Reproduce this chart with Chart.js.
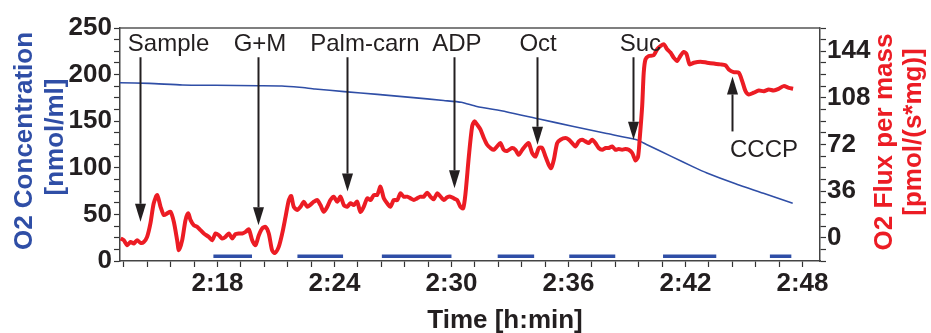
<!DOCTYPE html>
<html>
<head>
<meta charset="utf-8">
<script src="https://cdn.jsdelivr.net/npm/chart.js@4.4.0/dist/chart.umd.min.js"></script>
<style>
  html, body { margin: 0; padding: 0; background: #fff; }
  #wrap { width: 931px; height: 333px; }
</style>
</head>
<body>
<div id="wrap"><canvas id="chart" width="931" height="333"></canvas></div>
<script>
// Time values are minutes after 2:00
const o2Times = [13.0, 14.5, 16.2, 17.9, 20.1, 21.3, 22.2, 23.0, 24.5, 26.2, 27.9, 29.6, 30.5, 31.3,
  32.8, 34.5, 36.2, 37.9, 39.5, 40.0, 41.3, 42.4, 43.1, 44.5, 46.0, 47.5];
const o2Conc = [191.3, 190.6, 188.9, 188.5, 188.1, 187.8, 186.4, 184.6, 181.7, 178.8, 175.6, 172.2, 170.3, 165.8,
  160.2, 152.3, 144.6, 137.0, 130.0, 125.0, 112.0, 101.0, 94.5, 83.4, 72.6, 61.9];

const fluxTimes = [
  13.03, 13.19, 13.37, 13.54, 13.71, 13.88, 14.05, 14.22, 14.39, 14.56, 14.73, 14.91, 15.08, 15.25, 15.42,
  15.59, 15.76, 15.93, 16.02, 16.19, 16.36, 16.5, 16.62, 16.78, 16.96, 17.13, 17.3, 17.55, 17.73, 17.9,
  18.07, 18.24, 18.41, 18.58, 18.75, 18.92, 19.09, 19.27, 19.44, 19.61, 19.78, 19.95, 20.12, 20.29, 20.46,
  20.63, 20.8, 20.94, 21.14, 21.32, 21.49, 21.66, 21.78, 21.91, 22.09, 22.26, 22.43, 22.6, 22.77, 22.94,
  23.11, 23.28, 23.45, 23.63, 23.79, 23.96, 24.14, 24.31, 24.48, 24.65, 24.82, 24.99, 25.16, 25.33, 25.5,
  25.68, 25.85, 26.02, 26.19, 26.36, 26.53, 26.7, 26.87, 27.04, 27.22, 27.38, 27.55, 27.73, 27.9, 28.07,
  28.24, 28.41, 28.58, 28.75, 28.92, 29.09, 29.27, 29.44, 29.61, 29.78, 29.95, 30.12, 30.29, 30.46, 30.6,
  30.72, 30.89, 31.06, 31.18, 31.32, 31.49, 31.66, 31.83, 32.0, 32.17, 32.34, 32.51, 32.68, 32.85, 33.11,
  33.28, 33.45, 33.63, 33.79, 33.96, 34.14, 34.31, 34.48, 34.65, 34.82, 34.99, 35.11, 35.25, 35.42, 35.59,
  35.85, 36.02, 36.19, 36.36, 36.53, 36.7, 36.87, 37.04, 37.22, 37.38, 37.55, 37.73, 37.9, 38.07, 38.24,
  38.41, 38.58, 38.75, 38.92, 39.09, 39.27, 39.44, 39.57, 39.65, 39.78, 39.86, 39.95, 40.12, 40.37, 40.55,
  40.72, 40.89, 41.06, 41.23, 41.4, 41.57, 41.74, 41.91, 42.05, 42.22, 42.43, 42.77, 43.11, 43.45, 43.79,
  44.05, 44.22, 44.47, 44.73, 44.91, 45.08, 45.25, 45.5, 45.76, 46.02, 46.27, 46.53, 46.79, 47.04, 47.3,
  47.52];
const fluxValues = [
  -0.6, -1.9, -5.8, -3.3, -4.5, -1.9, -4.0, -3.3, 0.6, 11, 26.6, 33, 23.9, 17.5, 18.8,
  20, 12.3, -1.9, -9.7, -1.9, 13.6, 18.8, 13.6, 9.7, 8.4, 5.8, 3.3, 0.6, -1.9, 3.3,
  1.9, -0.6, 0.6, 3.3, -0.6, 2.7, 3.3, 3.3, 4.5, 6.4, -1.9, -5.8, 1.9, 7.1, 8.4,
  3.3, -9.7, -11.8, -7.1, 3.3, 16.1, 29.1, 32.2, 23.9, 21.4, 23.9, 27.8, 23.9, 25.5, 27.8,
  29.1, 25.2, 20, 23.9, 29.1, 31.7, 27.8, 31.7, 25.2, 23.9, 26.6, 25.2, 27.8, 20, 23.9,
  30.4, 29.1, 33, 33, 39.4, 30.4, 26.6, 23.9, 29.1, 29.1, 34.3, 31.7, 31.7, 30.4, 29.1,
  30.4, 31.7, 31.7, 34.8, 31.7, 29.7, 34.3, 31.7, 29.1, 31.2, 31.7, 30.4, 29.1, 23.9, 22.7,
  34.3, 62.7, 86, 89.9, 87.3, 83.5, 77, 71.8, 69.3, 67.9, 70.5, 73.1, 67.9, 67, 69.3,
  67.9, 64, 67.9, 71, 73.1, 65.4, 62.7, 69.3, 69.3, 62.7, 56.3, 53.7, 60.2, 73.1, 75.7,
  77, 75.7, 73.1, 70.5, 74.4, 75.7, 74.4, 73.1, 75.7, 73.1, 69.3, 67.9, 69.3, 69.3, 70.5,
  67.9, 68.5, 67.9, 68.5, 67.9, 65.4, 59.6, 62.7, 75.7, 101.6, 127.5, 137.8, 140.4, 140.9, 145.6,
  148.1, 149.5, 145.6, 143, 139.1, 136.5, 140.4, 143.5, 142, 133.9, 135.2, 136, 135.2, 134.5, 133.9,
  133.2, 130, 127.9, 127.5, 121, 113.2, 110.6, 112, 113.7, 113.2, 114.5, 113.7, 115.1, 117.1, 115.8,
  115.1];

// Blue marks along the bottom (start / end time)
const markStarts = [17.79, 22.10, 26.43, 32.37, 36.04, 40.85, 46.33];
const markEnds = [19.77, 24.44, 30.0, 34.24, 38.4, 43.58, 47.43];
const markLevel = 5;

// Titration events: arrow at eventTimes, from eventTails to eventTips (flux units)
const eventNames = ['Sample', 'G+M', 'Palm-carn', 'ADP', 'Oct', 'Suc', 'CCCP'];
const eventTimes = [14.05, 20.1, 24.62, 30.15, 34.41, 39.32, 44.39];
const eventTips = [12.3, 9.7, 35.6, 38.2, 71.8, 75.7, 124.6];
const eventTails = [139.4, 139.4, 139.4, 139.4, 139.4, 139.4, 82.1];
const eventLabelTimes = [15.49, 20.18, 25.56, 30.28, 34.44, 39.69, 46.03];
const eventLabelLevels = [144, 144, 144, 144, 144, 144, 62.5];

const concTicks = [0, 50, 100, 150, 200, 250];
const fluxTicks = [0, 36, 72, 108, 144];
const timeTicks = [18, 24, 30, 36, 42, 48];

const BLUE = '#2f4ea6';
const RED = '#ec1c24';
const INK = '#231f20';
const FONT = "'Liberation Sans', Arial, sans-serif";

function toPoints(xs, ys) {
    return xs.map((x, i) => ({ x: x, y: ys[i] }));
}

function buildMarks() {
    const pts = [];
    markStarts.forEach((s, i) => {
        if (i > 0) pts.push({ x: (markEnds[i - 1] + s) / 2, y: null });
        pts.push({ x: s, y: markLevel }, { x: markEnds[i], y: markLevel });
    });
    return pts;
}

function stepTicks(from, to, step) {
    const out = [];
    for (let i = 0; from + i * step <= to + 1e-6; i++) {
        out.push({ value: Math.round((from + i * step) * 100) / 100 });
    }
    return out;
}

function hasTick(list, v) {
    return list.some(t => Math.abs(t - v) < 1e-6);
}

// Top frame line, axis titles and event arrows
const decorations = {
    id: 'decorations',
    afterDraw(chart) {
        const ctx = chart.ctx;
        const area = chart.chartArea;
        const xs = chart.scales.x;
        const ys = chart.scales.y1;

        ctx.save();
        ctx.strokeStyle = '#555';
        ctx.lineWidth = 1.5;
        ctx.beginPath();
        ctx.moveTo(area.left, area.top);
        ctx.lineTo(area.right, area.top);
        ctx.stroke();

        // event arrows
        ctx.fillStyle = INK;
        ctx.strokeStyle = INK;
        ctx.font = '24px ' + FONT;
        ctx.textAlign = 'center';
        ctx.textBaseline = 'alphabetic';
        eventNames.forEach((name, i) => {
            ctx.fillText(name, xs.getPixelForValue(eventLabelTimes[i]), ys.getPixelForValue(eventLabelLevels[i]));
            const x = Math.round(xs.getPixelForValue(eventTimes[i])) + 0.5;
            const y0 = ys.getPixelForValue(eventTails[i]);
            const y1 = ys.getPixelForValue(eventTips[i]);
            const dir = y1 > y0 ? 1 : -1;
            const headLen = 18;
            ctx.lineWidth = 2;
            ctx.beginPath();
            ctx.moveTo(x, y0);
            ctx.lineTo(x, y1 - dir * headLen);
            ctx.stroke();
            ctx.beginPath();
            ctx.moveTo(x, y1);
            ctx.lineTo(x - 5.5, y1 - dir * headLen);
            ctx.lineTo(x + 5.5, y1 - dir * headLen);
            ctx.closePath();
            ctx.fill();
        });

        // axis titles
        ctx.font = 'bold 26px ' + FONT;
        ctx.textAlign = 'center';
        ctx.textBaseline = 'alphabetic';
        ctx.fillStyle = INK;
        ctx.fillText('Time [h:min]', 505, 328);

        const rotated = (text, x, y, color) => {
            ctx.save();
            ctx.translate(x, y);
            ctx.rotate(-Math.PI / 2);
            ctx.fillStyle = color;
            ctx.fillText(text, 0, 0);
            ctx.restore();
        };
        rotated('O2 Concentration', 32, 141, BLUE);
        rotated('[nmol/ml]', 63, 137, BLUE);
        rotated('O2 Flux per mass', 892, 142, RED);
        rotated('[pmol/(s*mg)]', 921, 132, RED);
        ctx.restore();
    }
};

const axisGrid = { drawOnChartArea: false, drawTicks: true, tickLength: 6, color: '#333', tickWidth: 1.2 };
const axisBorder = { display: true, color: '#444', width: 1.5 };
const tickFont = { family: FONT, size: 26, weight: 'bold' };

new Chart(document.getElementById('chart').getContext('2d'), {
    type: 'line',
    data: {
        datasets: [
            {
                label: 'O2 Flux per mass',
                data: toPoints(fluxTimes, fluxValues),
                yAxisID: 'y1',
                borderColor: RED,
                borderWidth: 4,
                tension: 0.25,
                pointRadius: 0,
                order: 0
            },
            {
                label: 'O2 Concentration',
                data: toPoints(o2Times, o2Conc),
                yAxisID: 'y',
                borderColor: BLUE,
                borderWidth: 1.6,
                tension: 0.2,
                pointRadius: 0,
                order: 1
            },
            {
                label: 'Marks',
                data: buildMarks(),
                yAxisID: 'y',
                borderColor: BLUE,
                borderWidth: 3.5,
                borderCapStyle: 'butt',
                spanGaps: false,
                pointRadius: 0,
                order: 2
            }
        ]
    },
    options: {
        responsive: false,
        animation: false,
        layout: { padding: { top: 28, left: 0, right: 0, bottom: 0 } },
        plugins: {
            legend: { display: false },
            tooltip: { enabled: false }
        },
        scales: {
            x: {
                type: 'linear',
                min: 13.0,
                max: 48.9,
                grid: axisGrid,
                border: axisBorder,
                afterBuildTicks: scale => { scale.ticks = stepTicks(13.2, 48.0, 1.2); },
                afterFit: scale => { scale.height = 72; },
                ticks: {
                    autoSkip: false,
                    maxRotation: 0,
                    padding: 1,
                    color: INK,
                    font: tickFont,
                    callback: value => hasTick(timeTicks, value) ? '2:' + Math.round(value) : ''
                }
            },
            y: {
                position: 'left',
                min: 0,
                max: 250,
                grid: axisGrid,
                border: axisBorder,
                afterBuildTicks: scale => { scale.ticks = stepTicks(0, 250, 12.5); },
                afterFit: scale => { scale.width = 120; },
                ticks: {
                    autoSkip: false,
                    padding: 2,
                    color: INK,
                    font: tickFont,
                    callback: value => hasTick(concTicks, value) ? String(value) : ''
                }
            },
            y1: {
                position: 'right',
                min: -18,
                max: 162,
                grid: axisGrid,
                border: axisBorder,
                afterBuildTicks: scale => { scale.ticks = stepTicks(-18, 162, 9); },
                afterFit: scale => { scale.width = 111; },
                ticks: {
                    autoSkip: false,
                    padding: 1,
                    color: INK,
                    font: tickFont,
                    callback: value => hasTick(fluxTicks, value) ? String(value) : ''
                }
            }
        }
    },
    plugins: [decorations]
});
</script>
</body>
</html>
